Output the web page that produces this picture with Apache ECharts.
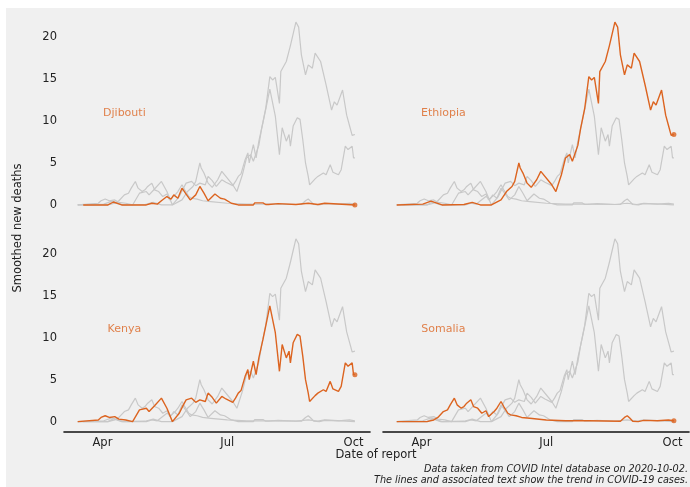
<!DOCTYPE html>
<html>
<head>
<meta charset="utf-8">
<script src="https://cdn.jsdelivr.net/npm/echarts@6/dist/echarts.min.js"></script>
<style>
  html, body { margin: 0; padding: 0; background: #ffffff; }
  #chart { width: 690px; height: 487px; }
</style>
</head>
<body>
<div id="chart"></div>
<script>
// ---- Data ----
const countries = ['Djibouti', 'Ethiopia', 'Kenya', 'Somalia'];

const djibouti = [
  ['2020-03-18', 0], ['2020-04-05', 0], ['2020-04-09', 0.35], ['2020-04-15', 0],
  ['2020-05-03', 0], ['2020-05-07', 0.2], ['2020-05-11', 0.1], ['2020-05-14', 0.5],
  ['2020-05-18', 1.0], ['2020-05-21', 0.7], ['2020-05-23', 1.2], ['2020-05-26', 0.8],
  ['2020-05-29', 2.0], ['2020-06-01', 1.3], ['2020-06-04', 0.6], ['2020-06-08', 1.2],
  ['2020-06-11', 2.2], ['2020-06-14', 1.4], ['2020-06-17', 0.5], ['2020-06-22', 1.3],
  ['2020-06-26', 0.8], ['2020-06-29', 0.7], ['2020-07-04', 0.2], ['2020-07-09', 0],
  ['2020-07-20', 0], ['2020-07-21', 0.25], ['2020-07-27', 0.25], ['2020-07-29', 0.05],
  ['2020-07-31', 0.05], ['2020-08-01', 0.15], ['2020-08-07', 0.15], ['2020-08-08', 0.05],
  ['2020-08-20', 0.05], ['2020-08-21', 0.2], ['2020-08-29', 0.2], ['2020-08-30', 0.05],
  ['2020-09-05', 0.05], ['2020-09-06', 0.2], ['2020-09-10', 0.2], ['2020-09-11', 0],
  ['2020-10-02', 0]
];

const ethiopia = [
  ['2020-03-14', 0], ['2020-04-02', 0.1], ['2020-04-08', 0.45], ['2020-04-16', 0],
  ['2020-05-02', 0.05], ['2020-05-08', 0.3], ['2020-05-14', 0], ['2020-05-22', 0],
  ['2020-05-29', 0.6], ['2020-06-02', 1.6], ['2020-06-06', 2.2], ['2020-06-08', 2.8],
  ['2020-06-11', 5.0], ['2020-06-12', 4.4], ['2020-06-14', 3.8], ['2020-06-17', 2.6],
  ['2020-06-20', 2.1], ['2020-06-24', 3.0], ['2020-06-27', 4.0], ['2020-06-28', 4.2],
  ['2020-07-05', 2.4], ['2020-07-08', 1.6], ['2020-07-12', 3.6], ['2020-07-15', 5.6],
  ['2020-07-18', 6.0], ['2020-07-20', 5.2], ['2020-07-24', 7.1], ['2020-07-26', 9.1],
  ['2020-07-29', 11.5], ['2020-08-01', 15.3], ['2020-08-03', 14.9], ['2020-08-05', 15.2],
  ['2020-08-08', 12.1], ['2020-08-09', 15.9], ['2020-08-13', 17.1], ['2020-08-16', 19.0],
  ['2020-08-18', 20.4], ['2020-08-20', 21.8], ['2020-08-22', 21.2], ['2020-08-24', 17.9],
  ['2020-08-27', 15.5], ['2020-08-29', 16.7], ['2020-09-01', 16.3], ['2020-09-03', 18.1],
  ['2020-09-07', 17.1], ['2020-09-11', 14.3], ['2020-09-15', 11.3], ['2020-09-17', 12.3],
  ['2020-09-19', 11.9], ['2020-09-23', 13.7], ['2020-09-26', 10.7], ['2020-09-28', 9.5],
  ['2020-09-30', 8.3], ['2020-10-02', 8.4]
];

const kenya = [
  ['2020-03-14', 0], ['2020-03-29', 0.2], ['2020-03-31', 0.5], ['2020-04-03', 0.7],
  ['2020-04-06', 0.5], ['2020-04-10', 0.6], ['2020-04-13', 0.3], ['2020-04-18', 0.2],
  ['2020-04-23', 0], ['2020-04-28', 1.4], ['2020-05-03', 1.6], ['2020-05-05', 1.2],
  ['2020-05-09', 1.9], ['2020-05-14', 2.8], ['2020-05-18', 1.6], ['2020-05-22', 0],
  ['2020-05-27', 1.0], ['2020-05-30', 2.0], ['2020-06-01', 2.6], ['2020-06-05', 2.8],
  ['2020-06-08', 2.3], ['2020-06-11', 2.6], ['2020-06-15', 2.4], ['2020-06-17', 3.4],
  ['2020-06-20', 2.9], ['2020-06-23', 2.2], ['2020-06-27', 3.0], ['2020-06-30', 2.7],
  ['2020-07-05', 2.3], ['2020-07-07', 2.8], ['2020-07-09', 3.4], ['2020-07-11', 3.7],
  ['2020-07-14', 5.4], ['2020-07-16', 6.2], ['2020-07-17', 5.0], ['2020-07-20', 7.2],
  ['2020-07-22', 5.6], ['2020-07-24', 7.6], ['2020-07-27', 9.8], ['2020-07-30', 12.2],
  ['2020-08-01', 13.8], ['2020-08-05', 10.6], ['2020-08-08', 6.0], ['2020-08-10', 9.2],
  ['2020-08-13', 7.6], ['2020-08-15', 8.4], ['2020-08-16', 7.0], ['2020-08-18', 9.4],
  ['2020-08-21', 10.4], ['2020-08-23', 10.2], ['2020-08-25', 7.8], ['2020-08-27', 5.0],
  ['2020-08-29', 3.4], ['2020-08-30', 2.4], ['2020-09-03', 3.1], ['2020-09-05', 3.4],
  ['2020-09-09', 3.8], ['2020-09-11', 3.6], ['2020-09-14', 4.8], ['2020-09-16', 3.9],
  ['2020-09-20', 3.6], ['2020-09-22', 4.2], ['2020-09-25', 7.0], ['2020-09-27', 6.6],
  ['2020-09-30', 7.0], ['2020-10-01', 5.6], ['2020-10-02', 5.6]
];

const somalia = [
  ['2020-03-14', 0], ['2020-04-05', 0], ['2020-04-10', 0.2], ['2020-04-13', 0.5],
  ['2020-04-17', 1.2], ['2020-04-20', 1.4], ['2020-04-22', 2.0], ['2020-04-25', 2.8],
  ['2020-04-27', 2.0], ['2020-04-30', 1.6], ['2020-05-02', 1.8], ['2020-05-04', 2.2],
  ['2020-05-07', 2.6], ['2020-05-09', 1.8], ['2020-05-12', 1.6], ['2020-05-15', 1.0],
  ['2020-05-18', 1.3], ['2020-05-20', 0.6], ['2020-05-24', 1.2], ['2020-05-26', 1.6],
  ['2020-05-29', 2.4], ['2020-05-31', 1.8], ['2020-06-03', 1.0], ['2020-06-05', 0.8],
  ['2020-06-09', 0.7], ['2020-06-13', 0.5], ['2020-06-19', 0.4], ['2020-07-01', 0.2],
  ['2020-07-15', 0.1], ['2020-08-01', 0.1], ['2020-08-24', 0.05], ['2020-08-27', 0.5],
  ['2020-08-29', 0.7], ['2020-08-31', 0.4], ['2020-09-02', 0.05], ['2020-09-06', 0],
  ['2020-09-10', 0.15], ['2020-09-20', 0.1], ['2020-09-28', 0.2], ['2020-10-02', 0.1]
];

const seriesData = [djibouti, ethiopia, kenya, somalia];
const yTickValues = [0, 5, 10, 15, 20];
const xTickDates = ['2020-04-01', '2020-07-01', '2020-10-01'];
const monthNames = ['Jan','Feb','Mar','Apr','May','Jun','Jul','Aug','Sep','Oct','Nov','Dec'];
const labelAnchor = ['2020-04-17', 11];
const xRange = ['2020-03-04', '2020-10-13'];

// ---- helpers ----
function ts(s) { const p = s.split('-').map(Number); return Date.UTC(p[0], p[1] - 1, p[2]); }
function toPoints(arr) { return arr.map(d => [ts(d[0]), d[1]]); }

// ---- Layout / style ----
const ORANGE = '#dc6420';
const GREY = '#c8c8c8';
const FONT = '"DejaVu Sans", sans-serif';
const lefts = [64, 383];
const tops = [12, 228.7];
const GW = 306, GH = 203;

const grids = [], xAxes = [], yAxes = [], series = [];
for (let p = 0; p < 4; p++) {
  const col = p % 2, row = Math.floor(p / 2);
  grids.push({ left: lefts[col], top: tops[row], width: GW, height: GH, containLabel: false, outerBoundsMode: 'none' });
  const bottom = row === 1;
  xAxes.push({
    type: 'value', gridIndex: p,
    min: ts(xRange[0]), max: ts(xRange[1]),
    axisLine: { show: bottom, onZero: false, lineStyle: { color: '#111', width: 1.6 } },
    axisTick: { show: false },
    splitLine: { show: false },
    axisLabel: {
      show: bottom, customValues: xTickDates.map(ts), margin: 5,
      color: '#222', fontSize: 11.5, fontFamily: FONT,
      formatter: v => monthNames[new Date(v).getUTCMonth()]
    }
  });
  yAxes.push({
    type: 'value', gridIndex: p, min: -1.2, max: 23,
    axisLine: { show: false, onZero: false }, axisTick: { show: false }, splitLine: { show: false },
    axisLabel: {
      show: col === 0, customValues: yTickValues, margin: 7,
      color: '#222', fontSize: 11.5, fontFamily: FONT
    }
  });
  for (let c = 0; c < 4; c++) {
    if (c === p) continue;
    series.push({
      type: 'line', xAxisIndex: p, yAxisIndex: p, data: toPoints(seriesData[c]),
      showSymbol: false, symbol: 'none', silent: true, z: 2,
      lineStyle: { color: GREY, width: 1.2 }
    });
  }
  const pts = toPoints(seriesData[p]);
  series.push({
    type: 'line', xAxisIndex: p, yAxisIndex: p, data: pts,
    showSymbol: false, symbol: 'none', silent: true, z: 5,
    lineStyle: { color: ORANGE, width: 1.4 }
  });
  series.push({
    type: 'scatter', xAxisIndex: p, yAxisIndex: p,
    data: [pts[pts.length - 1]],
    symbol: 'circle', symbolSize: 5, itemStyle: { color: ORANGE }, z: 6, silent: true
  });
  series.push({
    type: 'scatter', xAxisIndex: p, yAxisIndex: p,
    data: [[ts(labelAnchor[0]), labelAnchor[1]]], symbolSize: 0, silent: true, z: 6,
    label: {
      show: true, position: 'inside', formatter: countries[p],
      color: ORANGE, fontSize: 11, fontFamily: FONT
    }
  });
}

const chart = echarts.init(document.getElementById('chart'), null, { renderer: 'canvas' });
chart.setOption({
  backgroundColor: '#ffffff',
  animation: false,
  graphic: [
    { type: 'rect', z: -10, shape: { x: 6, y: 8, width: 684, height: 479 }, style: { fill: '#f0f0f0' }, silent: true },
    { type: 'text', x: 18, y: 228, rotation: Math.PI / 2, z: 10,
      style: { text: 'Smoothed new deaths', textAlign: 'center', textVerticalAlign: 'middle',
               fill: '#222', font: '11.5px "DejaVu Sans", sans-serif' } },
    { type: 'text', x: 376, y: 455, z: 10,
      style: { text: 'Date of report', textAlign: 'center', textVerticalAlign: 'middle',
               fill: '#222', font: '11.5px "DejaVu Sans", sans-serif' } },
    { type: 'text', x: 688, y: 469, z: 10,
      style: { text: 'Data taken from COVID Intel database on 2020-10-02.', textAlign: 'right', textVerticalAlign: 'middle',
               fill: '#222', font: 'italic 9.7px "DejaVu Sans", sans-serif' } },
    { type: 'text', x: 688, y: 480.5, z: 10,
      style: { text: 'The lines and associated text show the trend in COVID-19 cases.', textAlign: 'right', textVerticalAlign: 'middle',
               fill: '#222', font: 'italic 9.7px "DejaVu Sans", sans-serif' } }
  ],
  grid: grids, xAxis: xAxes, yAxis: yAxes, series: series
});
</script>
</body>
</html>
